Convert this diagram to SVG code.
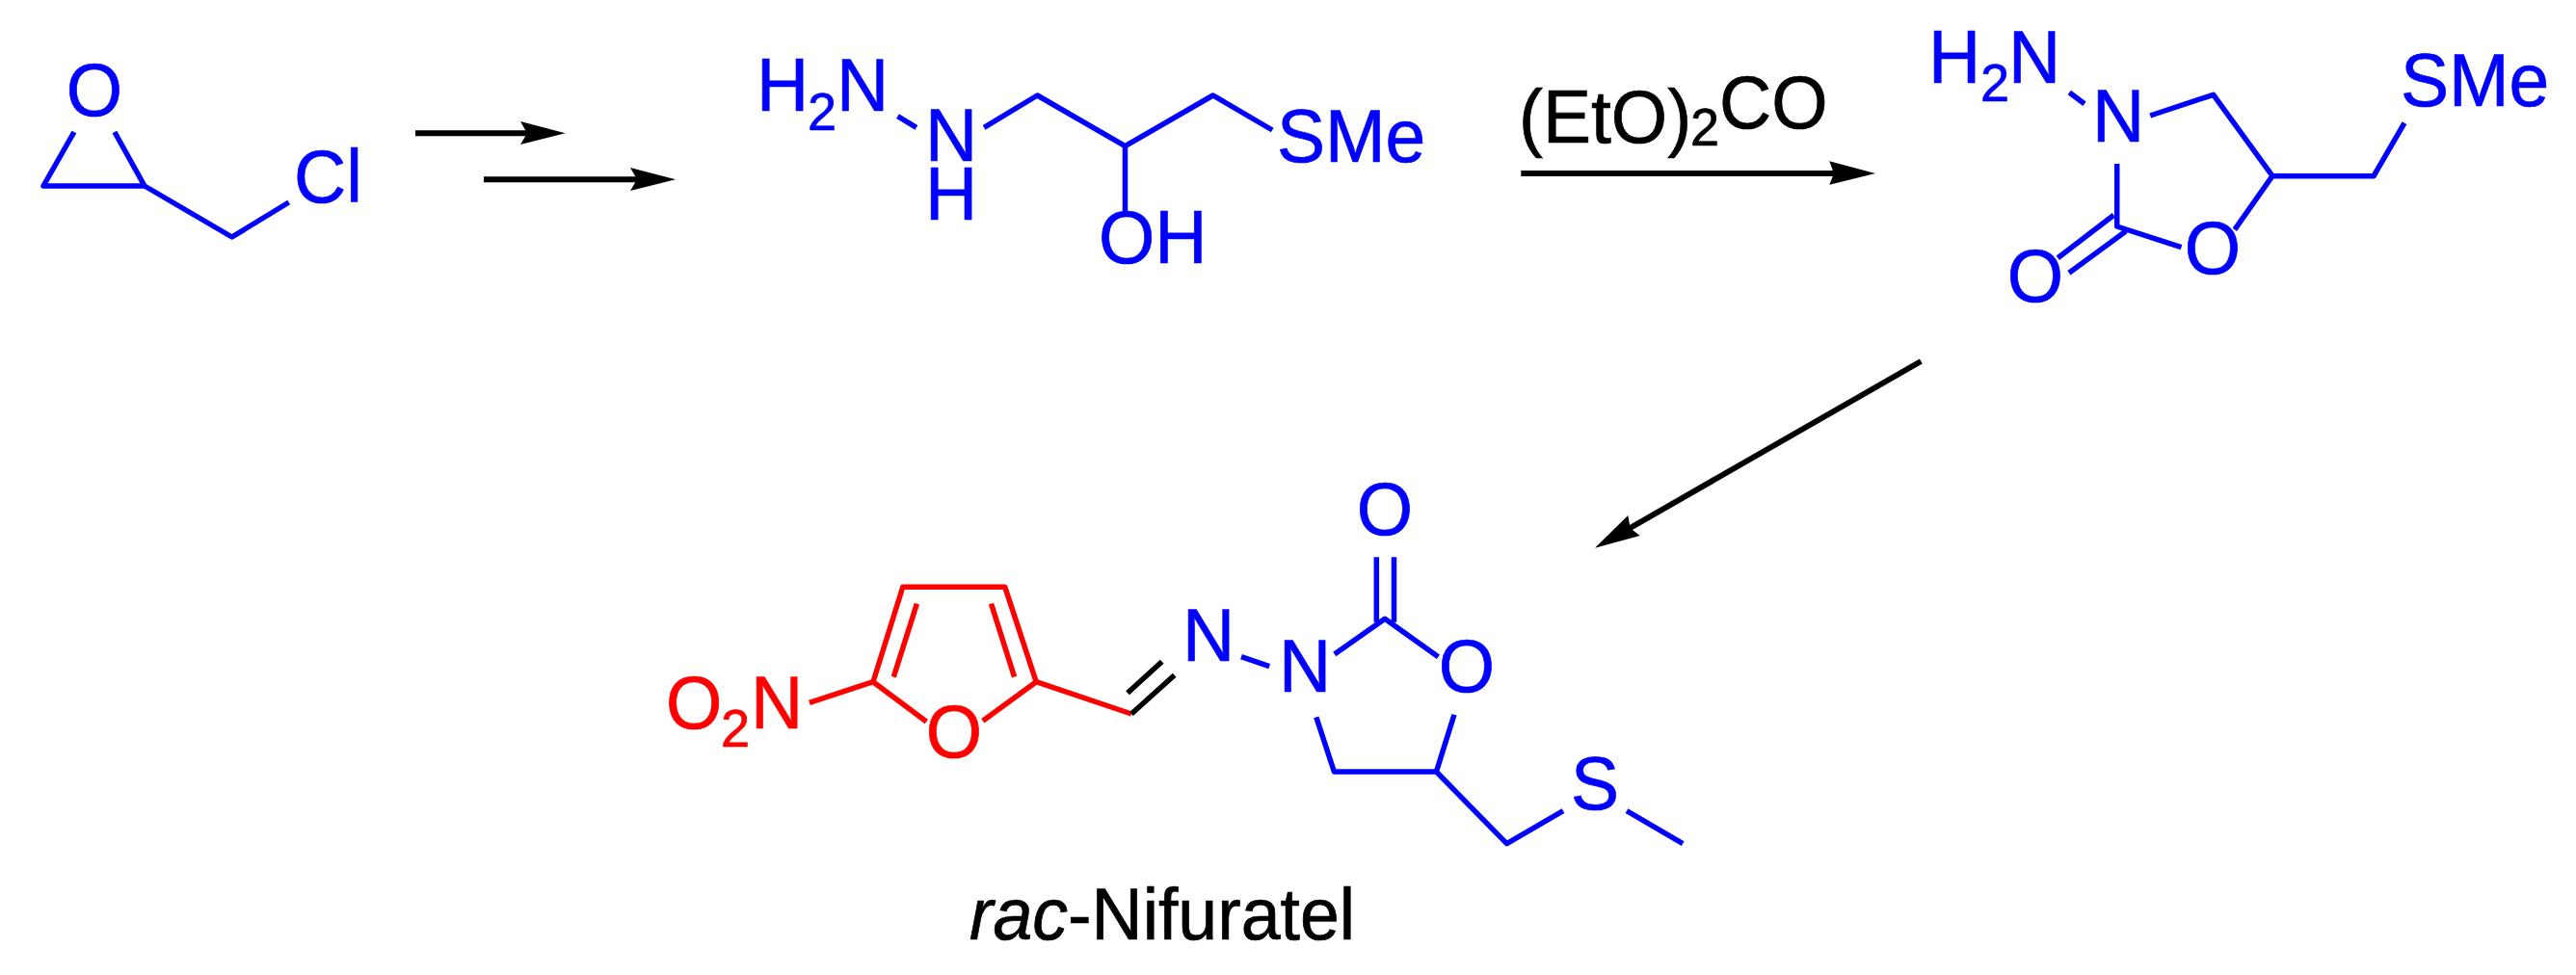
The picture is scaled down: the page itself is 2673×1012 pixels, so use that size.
<svg xmlns="http://www.w3.org/2000/svg" width="2673" height="1012" viewBox="0 0 2673 1012">
<style>
text{font-family:"Liberation Sans",Arial,sans-serif;font-size:75px;stroke-width:.7;transform-box:fill-box;transform-origin:0 81%;transform:scaleY(1.04)}
.s{font-size:54px}
.c{font-size:73.5px}
.b{fill:#0000ff;stroke:#0000ff}.r{fill:#ff0000;stroke:#ff0000}.k{fill:#000;stroke:#000}
.bond{fill:none;stroke-width:5.5;stroke-linejoin:round;stroke-linecap:butt}
.bb{stroke:#0000ff}.br{stroke:#ff0000}.bk{stroke:#000}
.shaft{stroke:#000;stroke-width:6;fill:none}
.m{text-anchor:middle}
</style>
<rect width="2673" height="1012" fill="#fff"/>
<g id="epichlorohydrin">
<path class="bond bb" d="M76.9 137L45 193H150L118.9 137M150 193L240.7 246L299.7 210"/>
<text class="b m" x="98" y="120">O</text>
<text class="b" x="305" y="210">Cl</text>
</g>
<g id="hydrazino-alcohol">
<path class="bond bb" d="M931.5 120.7L950.9 132.3M1021.1 132.3L1076.4 99L1167.5 151.7L1258.7 99L1320.2 135M1167.5 151.7V220"/>
<text class="b" x="785" y="115">H</text><text class="b s" x="838" y="134.7">2</text><text class="b" x="868" y="115">N</text>
<text class="b" x="960" y="167">N</text>
<text class="b" x="960" y="228">H</text>
<text class="b" x="1140" y="273">OH</text>
<text class="b" x="1325" y="168.5">SMe</text>
</g>
<g id="oxazolidinone">
<path class="bond bb" d="M2147.3 96L2163 107.7M2231.2 120L2296.7 98.3L2358 182.7H2463.1L2495 127.7M2358 182.7L2318.8 238.3M2196.7 170V235L2263.5 256.7M2193.4 223.3L2135.3 267.7M2205.9 240L2146.9 283.3"/>
<text class="b" x="2001" y="86">H</text><text class="b s" x="2055" y="104.7">2</text><text class="b" x="2084" y="86">N</text>
<text class="b" x="2171" y="146.7">N</text>
<text class="b m" x="2296" y="284">O</text>
<text class="b m" x="2112" y="313">O</text>
<text class="b" x="2491" y="110">SMe</text>
</g>
<g id="nifuratel">
<path class="bond br" d="M839.9 729.3L906 707.7L936.8 609.3H1042.8L1075.2 707.7L1174 741M906 707.7L961.3 749M1075.2 707.7L1019.8 748.3M951.4 626.7L927.3 702.7M1028.5 626.7L1052.6 702.7"/>
<path class="bond bk" d="M1174 741L1218.7 700.7M1170 719.3L1205.7 686.7"/>
<path class="bond bb" d="M1288 681.7L1317.2 691.7M1384.8 679L1437 642.3L1492.4 681.7M1428.3 578.3V645.7M1446.5 578.3V645.7M1509 741.7L1490.4 801H1384.4L1365.8 744.3M1490.4 801L1563.5 875.7L1622 841.7M1688 841.7L1746.2 875.7"/>
<text class="r" x="691" y="756">O</text><text class="r s" x="748" y="775">2</text><text class="r" x="779" y="756">N</text>
<text class="r m" x="990" y="786">O</text>
<text class="b" x="1227" y="685.7">N</text>
<text class="b" x="1327" y="717.7">N</text>
<text class="b m" x="1437" y="555">O</text>
<text class="b m" x="1522" y="718">O</text>
<text class="b" x="1630" y="840">S</text>
</g>
<g id="label-nifuratel">
<text class="k c" x="1006" y="975"><tspan font-style="italic">rac</tspan>-Nifuratel</text>
</g>
<g id="reagent">
<text class="k" x="1576" y="148.3">(EtO)</text><text class="k s" x="1754" y="150.7">2</text><text class="k" x="1784" y="133">CO</text>
</g>
<g id="connectors">
<path class="shaft" d="M431 138.3H550"/><path d="M586.6 138.3L540 126L547 138.3L540 150Z"/>
<path class="shaft" d="M502 186.3H665"/><path d="M701 186.3L654 174L661 186.3L654 198Z"/>
<path class="shaft" d="M1578.3 180H1910"/><path d="M1946 180L1898.3 167.3L1903 180L1898.3 191.7Z"/>
<path class="shaft" d="M1993.3 375L1688 550"/><path d="M1655 568.7L1689.3 535L1691.7 548.3L1701.7 556Z"/>
</g>
</svg>
